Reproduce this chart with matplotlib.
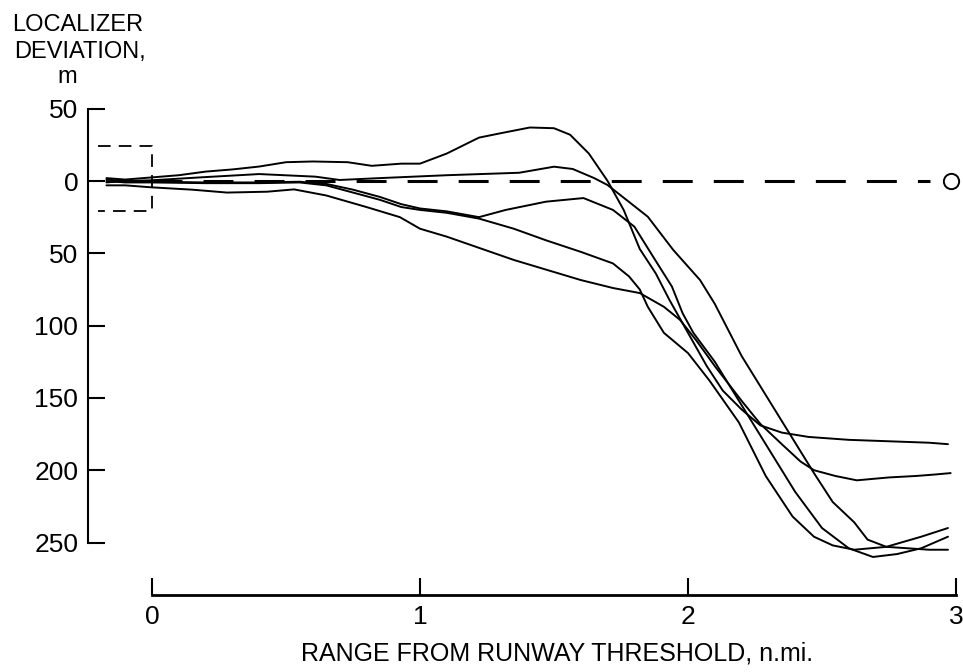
import matplotlib
matplotlib.use("Agg")
import matplotlib.pyplot as plt

plt.rcParams["font.family"] = ["Liberation Sans", "DejaVu Sans"]

# range from runway threshold (n.mi.) and localizer deviation (m), five runs
run_a_x = [-0.17, -0.1, 0.0, 0.1, 0.2, 0.3, 0.4, 0.5, 0.6, 0.73, 0.82, 0.93, 1.0, 1.1, 1.22, 1.3,
           1.41, 1.5, 1.56, 1.63, 1.7, 1.76, 1.82, 1.88, 1.93, 2.0, 2.07, 2.13, 2.2, 2.27, 2.35,
           2.45, 2.6, 2.75, 2.9, 2.97]
run_a_y = [2, 1, 2.5, 4, 6.5, 8, 10, 13, 13.5, 13, 10.5, 12, 12, 19, 30, 33,
           37, 36.5, 32, 19, 0, -20, -47, -64, -82, -105, -128, -145, -158, -169, -174,
           -177, -179, -180, -181, -182]

run_b_x = [-0.17, -0.1, 0.0, 0.18, 0.4, 0.61, 0.7, 0.85, 1.1, 1.37, 1.5, 1.57, 1.65, 1.7, 1.85,
           1.945, 2.045, 2.1, 2.2, 2.3, 2.37, 2.47, 2.54, 2.62, 2.67, 2.74, 2.82, 2.9, 2.97]
run_b_y = [-1, 0, 0.5, 2.5, 4.8, 3, 0.7, 2, 4, 5.7, 9.9, 8.3, 2, -2.8, -24.7,
           -47.7, -68.5, -85, -121, -151, -172, -202, -222, -236, -248, -253, -254, -255, -255]

run_c_x = [-0.17, -0.1, 0.0, 0.2, 0.4, 0.55, 0.65, 0.75, 0.85, 0.93, 1.0, 1.1, 1.22, 1.32, 1.47,
           1.61, 1.72, 1.8, 1.87, 1.94, 1.98, 2.02, 2.1, 2.2, 2.3, 2.4, 2.5, 2.6, 2.69, 2.78,
           2.87, 2.97]
run_c_y = [1, 0, -0.5, -1, -1, -0.5, -2, -6, -11, -16, -19, -21, -25, -20, -14.3,
           -11.8, -20, -31.6, -52.4, -73, -91.5, -105, -125, -155, -185, -215, -240, -254, -260, -258,
           -254, -246]

run_d_x = [-0.17, -0.1, 0.0, 0.2, 0.4, 0.55, 0.65, 0.75, 0.85, 0.93, 1.0, 1.1, 1.22, 1.35, 1.47,
           1.6, 1.72, 1.78, 1.82, 1.85, 1.91, 2.0, 2.08, 2.19, 2.29, 2.39, 2.47, 2.54, 2.62, 2.74,
           2.87, 2.97]
run_d_y = [0, -1, -1, -1.5, -1.5, -1, -3, -8, -13, -18, -20, -22, -26, -33, -41,
           -49, -57, -66, -75, -87, -105, -119, -138, -167, -204, -232, -246, -252, -255, -253,
           -246, -240]

run_e_x = [-0.17, -0.1, 0.0, 0.15, 0.28, 0.43, 0.53, 0.65, 0.8, 0.925, 1.0, 1.1, 1.35, 1.6, 1.72,
           1.82, 1.91, 1.97, 2.03, 2.1, 2.2, 2.27, 2.35, 2.42, 2.47, 2.55, 2.63, 2.75, 2.85, 2.92,
           2.98]
run_e_y = [-3, -3, -4.4, -6, -8, -7.4, -5.8, -10, -18, -25, -33, -38.5, -54.6, -68.5, -74,
           -77.5, -87, -96, -110, -128, -152, -168, -182, -194, -200, -204, -207, -205, -204, -203,
           -202]

runs = [(run_a_x, run_a_y), (run_b_x, run_b_y), (run_c_x, run_c_y),
        (run_d_x, run_d_y), (run_e_x, run_e_y)]

y_ticks = [50, 0, -50, -100, -150, -200, -250]
y_tick_labels = ["50", "0", "50", "100", "150", "200", "250"]
x_ticks = [0, 1, 2, 3]

# reference window around threshold (dashed box) and localizer centerline end
box_x = [-0.2, 0.0, 0.0, -0.2]
box_y = [24, 24, -21, -21]
centerline_end = 2.903
marker_x = 2.98

# layout in figure pixels
W, H = 963, 672
ax_left_px, ax_right_px, ax_top_px, ax_bot_px = 88, 960, 100, 600
x0_px, px_per_nmi = 152, 268.0
y0_px, px_per_m = 181, 72.3 / 50
xaxis_px = 595

fig = plt.figure(figsize=(W / 100, H / 100), dpi=100)
ax = fig.add_axes([ax_left_px / W, (H - ax_bot_px) / H,
                   (ax_right_px - ax_left_px) / W, (ax_bot_px - ax_top_px) / H])
ax.set_xlim((ax_left_px - x0_px) / px_per_nmi, (ax_right_px - x0_px) / px_per_nmi)
ax.set_ylim((y0_px - ax_bot_px) / px_per_m, (y0_px - ax_top_px) / px_per_m)

for xs, ys in runs:
    ax.plot(xs, ys, color="black", linewidth=1.4, solid_capstyle="round",
            solid_joinstyle="round")

ax.plot([0, centerline_end], [0, 0], color="black", linewidth=2.2,
        dashes=(9.8, 6.9), dash_capstyle="butt")
ax.plot(marker_x, 0, "o", markersize=11, markerfacecolor="white",
        markeredgecolor="black", markeredgewidth=1.4)
ax.plot(box_x, box_y, color="black", linewidth=1.3, dashes=(7, 4.5))

ax.spines["top"].set_visible(False)
ax.spines["right"].set_visible(False)
ax.spines["left"].set_bounds(-250, 50)
ax.spines["left"].set_linewidth(1.5)
ax.spines["bottom"].set_position(("data", (y0_px - xaxis_px) / px_per_m))
ax.spines["bottom"].set_bounds(0, 3)
ax.spines["bottom"].set_linewidth(2.0)

ax.set_yticks(y_ticks)
ax.set_yticklabels(y_tick_labels)
ax.set_xticks(x_ticks)
ax.set_xticklabels([str(t) for t in x_ticks])
ax.tick_params(axis="both", direction="in", length=12, width=1.5, labelsize=19, colors="black")
ax.tick_params(axis="y", pad=7)
ax.tick_params(axis="x", pad=7)

fig.text(78 / W, 1 - 25 / H, "LOCALIZER", ha="center", va="center", fontsize=17)
fig.text(80 / W, 1 - 52 / H, "DEVIATION,", ha="center", va="center", fontsize=17)
fig.text(67 / W, 1 - 77 / H, "m", ha="center", va="center", fontsize=17)
fig.text(557 / W, 1 - 654 / H, "RANGE FROM RUNWAY THRESHOLD, n.mi.",
         ha="center", va="center", fontsize=18)

fig.savefig("out.png", dpi=100)
